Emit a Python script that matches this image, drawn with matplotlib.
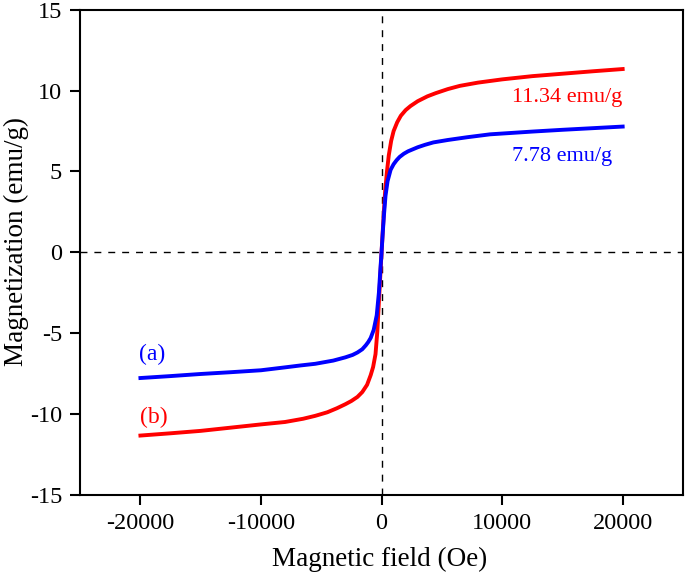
import matplotlib.pyplot as plt

plt.rcParams['font.family'] = ['Liberation Serif', 'DejaVu Serif']
plt.rcParams['axes.unicode_minus'] = False

# sample (b): red curve
field_b = [-20000, -17500, -15000, -12500, -10000, -8000, -6500, -5500, -4500,
           -3700, -3000, -2500, -2000, -1600, -1200, -900, -700, -500, -350,
           -200, -100, 0,
           100, 200, 300, 450, 600, 800, 1000, 1300, 1600, 2000, 2400, 3000,
           3800, 4500, 5500, 6500, 8000, 10000, 12500, 15000, 17500, 20000]
mag_b = [-11.34, -11.2, -11.05, -10.85, -10.65, -10.5, -10.3, -10.12, -9.9,
         -9.65, -9.4, -9.2, -8.95, -8.65, -8.2, -7.6, -7.1, -6.3, -4.9,
         -2.8, -1.4, 0.0,
         1.3, 2.6, 3.8, 5.0, 6.0, 6.9, 7.5, 8.05, 8.45, 8.8, 9.05, 9.35,
         9.65, 9.85, 10.1, 10.3, 10.5, 10.7, 10.9, 11.05, 11.2, 11.34]

# sample (a): blue curve
field_a = [-20000, -17500, -15000, -12500, -10000, -8000, -6700, -5500, -4000,
           -3000, -2400, -2000, -1600, -1300, -1100, -900, -650, -400, -220,
           -100, 0,
           100, 200, 330, 500, 750, 1000, 1250, 1500, 1850, 2200, 3000, 3600,
           4300, 5500, 7100, 9000, 12500, 15000, 17500, 20000]
mag_a = [-7.78, -7.66, -7.53, -7.42, -7.3, -7.12, -7.0, -6.9, -6.7,
         -6.5, -6.35, -6.2, -6.0, -5.75, -5.55, -5.3, -4.8, -3.9, -2.5,
         -1.1, 0.0,
         1.2, 2.3, 3.5, 4.4, 5.1, 5.45, 5.7, 5.9, 6.1, 6.25, 6.5, 6.65,
         6.8, 6.95, 7.12, 7.3, 7.47, 7.58, 7.68, 7.78]

fig = plt.figure(figsize=(6.85, 5.82), dpi=100)
ax = fig.add_axes([0.117, 0.15, 0.88, 0.833])

ax.axhline(0, color='black', lw=1.0, ls=(0, (5, 5)), zorder=1)
ax.axvline(0, color='black', lw=1.0, ls=(0, (5, 5)), zorder=1)

ax.plot(field_b, mag_b, color='red', lw=2.8, zorder=3, solid_joinstyle='round')
ax.plot(field_a, mag_a, color='blue', lw=2.8, zorder=4, solid_joinstyle='round')

ax.text(15400, 9.6, '11.34 emu/g', color='red', fontsize=16, ha='center', va='center')
ax.text(15000, 5.9, '7.78 emu/g', color='blue', fontsize=16, ha='center', va='center')
ax.text(-19000, -6.35, '(a)', color='blue', fontsize=17, ha='center', va='center')
ax.text(-18900, -10.2, '(b)', color='red', fontsize=17, ha='center', va='center')

ax.set_xlim(-25000, 25000)
ax.set_ylim(-15, 15)
ax.set_xticks([-20000, -10000, 0, 10000, 20000])
ax.set_yticks([-15, -10, -5, 0, 5, 10, 15])

for s in ax.spines.values():
    s.set_linewidth(1.5)
ax.tick_params(direction='out', length=7, width=1.5, labelsize=17.5, pad=6,
               top=False, right=False)

ax.set_xlabel('Magnetic field (Oe)', fontsize=19.5)
ax.set_ylabel('Magnetization (emu/g)', fontsize=19.5)
ax.xaxis.set_label_coords(0.496, -0.107)
ax.yaxis.set_label_coords(-0.085, 0.522)

fig.savefig('out.png', dpi=100)
